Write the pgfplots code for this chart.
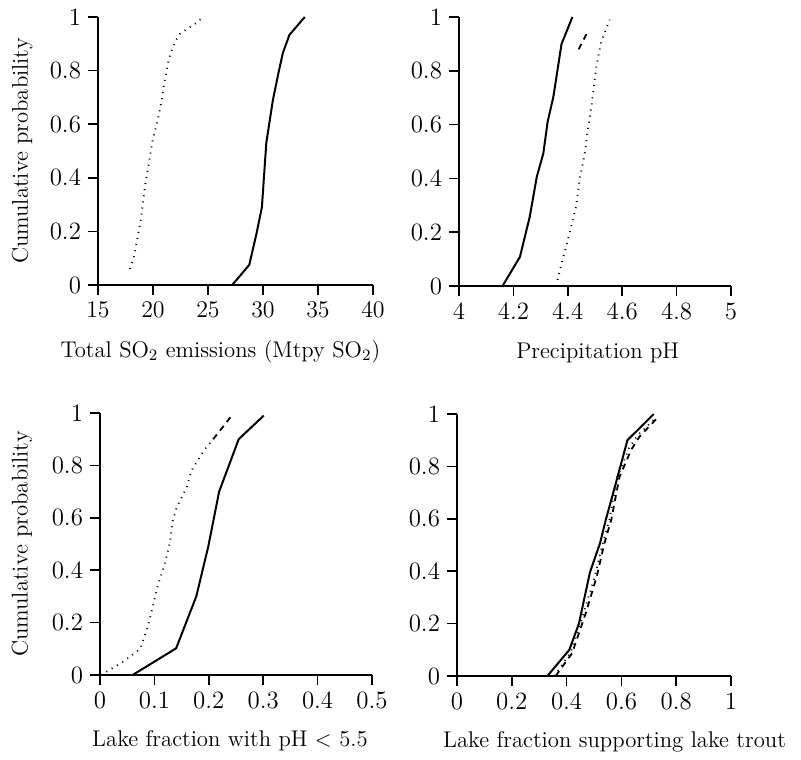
\documentclass[border=0pt]{standalone}
\usepackage{pgfplots}
\pgfplotsset{compat=1.18}
\begin{document}
\begin{tikzpicture}
\useasboundingbox (0,0) rectangle (400.5bp,380bp);
\pgfplotsset{
  cdf/.style={
    scale only axis,
    axis lines=left,
    axis line style={-, line width=1pt},
    tick align=outside,
    major tick length=5bp,
    tick style={line width=0.8pt, black},
    tick label style={font=\fontsize{12.5}{14}\selectfont},
    label style={font=\fontsize{11.4}{13}\selectfont, inner sep=0pt},
    ymin=0, ymax=1,
    ytick={0,0.2,0.4,0.6,0.8,1},
    yticklabels={0,0.2,0.4,0.6,0.8,1},
    xlabel style={at={(axis description cs:0.5,-0.25)}, anchor=center},
    ylabel style={anchor=center},
  },
  sol/.style={black, line width=1pt, mark=none},
  dot/.style={black, line width=0.9pt, dash pattern=on 0.5pt off 2.6pt, mark=none},
  dsh/.style={black, line width=0.9pt, dash pattern=on 3pt off 2.5pt, mark=none},
}

% top left: SO2 emissions
\begin{axis}[cdf, at={(49bp,237.5bp)}, anchor=south west,
  width=137.5bp, height=134bp,
  xmin=15, xmax=40, xtick={15,20,25,30,35,40},
  xlabel={Total SO$_2$ emissions (Mtpy SO$_2$)},
  xlabel style={at={(axis description cs:0.445,-0.25)}},
  ylabel={Cumulative probability},
  ylabel style={at={(axis description cs:-0.276,0.5)}}]
\addplot[sol] coordinates {
  (27.2,0) (28.75,0.075) (29.4,0.19) (29.9,0.29) (30.3,0.53)
  (30.9,0.69) (31.4,0.79) (31.8,0.865) (32.4,0.933) (33.8,1.0)};
\addplot[dot] coordinates {
  (17.9,0.06) (18.3,0.11) (18.9,0.245) (19.3,0.376) (20.0,0.547)
  (20.4,0.61) (20.8,0.69) (21.0,0.75) (21.4,0.833) (21.6,0.865)
  (22.1,0.914) (22.5,0.94) (23.1,0.955) (24.0,0.98) (24.4,0.995)};
\end{axis}

% top right: precipitation pH
\begin{axis}[cdf, at={(229.5bp,237bp)}, anchor=south west,
  width=136bp, height=134.5bp,
  xmin=4, xmax=5, xtick={4,4.2,4.4,4.6,4.8,5},
  xticklabels={4,4.2,4.4,4.6,4.8,5},
  xlabel={Precipitation pH},
  xlabel style={at={(axis description cs:0.51,-0.25)}}]
\addplot[sol] coordinates {
  (4.16,0) (4.224,0.108) (4.26,0.257) (4.286,0.406) (4.31,0.493)
  (4.326,0.611) (4.347,0.704) (4.377,0.90) (4.417,1.0)};
\addplot[dot] coordinates {
  (4.357,0) (4.377,0.083) (4.40,0.17) (4.418,0.245) (4.43,0.294)
  (4.444,0.40) (4.465,0.506) (4.47,0.556) (4.487,0.668) (4.505,0.817)
  (4.523,0.91) (4.554,0.99)};
\addplot[dsh] coordinates {(4.44,0.88) (4.475,0.95)};
\end{axis}

% bottom left: lake fraction with pH < 5.5
\begin{axis}[cdf, at={(50bp,42.5bp)}, anchor=south west,
  width=136bp, height=131bp,
  xmin=0, xmax=0.5, xtick={0,0.1,0.2,0.3,0.4,0.5},
  xticklabels={0,0.1,0.2,0.3,0.4,0.5},
  xlabel={Lake fraction with pH $<$ 5.5},
  xlabel style={at={(axis description cs:0.478,-0.25)}},
  ylabel={Cumulative probability},
  ylabel style={at={(axis description cs:-0.287,0.5)}}]
\addplot[sol] coordinates {
  (0.06,0) (0.14,0.102) (0.177,0.30) (0.199,0.49) (0.219,0.70)
  (0.255,0.90) (0.301,0.99)};
\addplot[dot] coordinates {
  (0.002,0) (0.042,0.05) (0.074,0.10) (0.088,0.185) (0.097,0.26)
  (0.106,0.34) (0.117,0.41) (0.128,0.50) (0.134,0.59) (0.141,0.64)
  (0.153,0.69) (0.16,0.72) (0.168,0.78) (0.192,0.86) (0.208,0.90)};
\addplot[dsh] coordinates {(0.208,0.90) (0.229,0.955) (0.242,0.99)};
\end{axis}

% bottom right: lake fraction supporting lake trout
\begin{axis}[cdf, at={(228.5bp,42bp)}, anchor=south west,
  width=137bp, height=131bp,
  xmin=0, xmax=1, xtick={0,0.2,0.4,0.6,0.8,1},
  xticklabels={0,0.2,0.4,0.6,0.8,1},
  xlabel={Lake fraction supporting lake trout},
  xlabel style={at={(axis description cs:0.575,-0.25)}}]
\addplot[sol] coordinates {
  (0.33,0) (0.41,0.10) (0.445,0.20) (0.485,0.395) (0.522,0.507)
  (0.543,0.596) (0.573,0.71) (0.622,0.90) (0.718,1.0)};
\addplot[dot] coordinates {
  (0.355,0) (0.415,0.09) (0.462,0.24) (0.503,0.38) (0.532,0.507)
  (0.556,0.596) (0.585,0.76) (0.628,0.87) (0.66,0.92) (0.72,0.98)};
\addplot[dsh] coordinates {
  (0.36,0) (0.42,0.087) (0.47,0.24) (0.51,0.38) (0.538,0.507)
  (0.563,0.596) (0.593,0.76) (0.636,0.864) (0.667,0.915) (0.736,0.99)};
\end{axis}
\end{tikzpicture}
\end{document}
